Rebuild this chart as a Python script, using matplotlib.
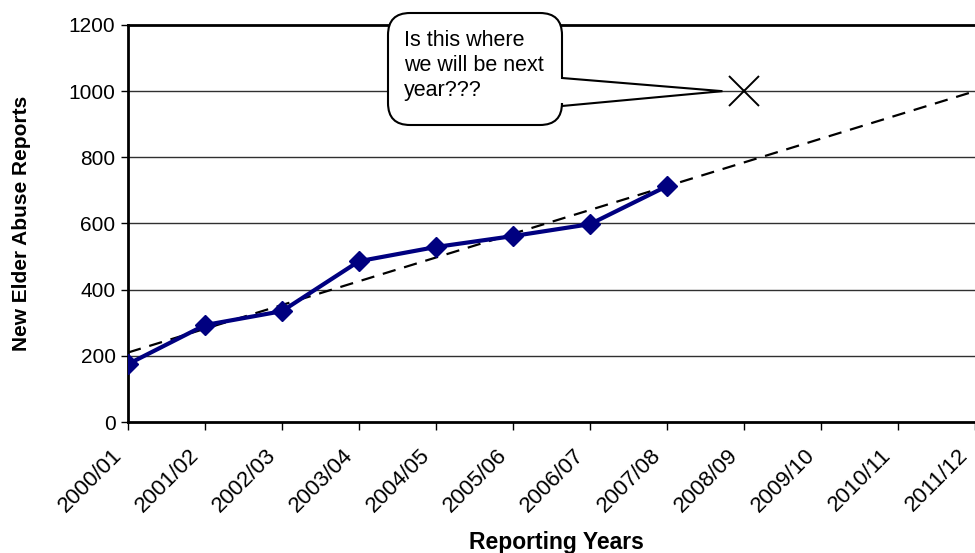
import matplotlib
matplotlib.use("Agg")
import matplotlib.pyplot as plt
from matplotlib.path import Path
from matplotlib.patches import PathPatch
from matplotlib.transforms import IdentityTransform, ScaledTranslation

plt.rcParams['font.family'] = ['Liberation Sans', 'DejaVu Sans']

years = ["2000/01", "2001/02", "2002/03", "2003/04", "2004/05", "2005/06",
         "2006/07", "2007/08", "2008/09", "2009/10", "2010/11", "2011/12"]
reports = [175, 293, 335, 486, 529, 562, 598, 713]
trend_ends = [210, 1000]          # trend line value at first and last year
guess_year = "2008/09"
guess_value = 1000
callout_text = "Is this where\nwe will be next\nyear???"
yticks = [0, 200, 400, 600, 800, 1000, 1200]

W, H, DPI = 975, 553, 100
fig = plt.figure(figsize=(W / DPI, H / DPI), dpi=DPI)
ax = fig.add_axes([128 / W, 1 - 422 / H, (W - 128) / W, (422 - 25) / H])

xs = list(range(len(years)))
ax.set_xlim(0, len(years) - 1)
ax.set_ylim(0, 1200)

for v in yticks[1:-1]:
    ax.axhline(v, color='#303030', lw=1.0, zorder=1)

ax.plot([xs[0], xs[-1]], trend_ends, color='black', lw=1.6,
        dashes=(6, 4), zorder=3)
ax.plot(xs[:len(reports)], reports, color='#000080', lw=3,
        marker='D', markersize=10, markerfacecolor='#000080',
        markeredgecolor='#000080', zorder=4)
gx = years.index(guess_year)
ax.plot([gx], [guess_value], marker='x', markersize=22, color='black',
        mew=1.4, zorder=5, clip_on=False)

ax.set_xticks(xs)
ax.set_xticklabels([])
shift = ScaledTranslation(-17 / DPI, -23 / DPI, fig.dpi_scale_trans)
for x, lab in zip(xs, years):
    ax.text(x, 0, lab, transform=ax.get_xaxis_transform() + shift,
            rotation=45, ha='right', va='top', rotation_mode='anchor',
            fontsize=16, clip_on=False)
ax.set_yticks(yticks)
ax.set_yticklabels([str(v) for v in yticks], fontsize=15)
ax.tick_params(axis='x', direction='out', length=6, width=1)
ax.tick_params(axis='y', direction='out', length=5, width=1, pad=4)

for s in ['left', 'bottom', 'top']:
    ax.spines[s].set_linewidth(2)
    ax.spines[s].set_color('black')
ax.spines['right'].set_visible(False)

ax.set_ylabel("New Elder Abuse Reports", fontsize=15, fontweight='bold')
ax.yaxis.label.set_va('center')
ax.yaxis.set_label_coords(-(128 - 22) / (W - 128), 0.5)
ax.set_xlabel("Reporting Years", fontsize=16.5, fontweight='bold')
ax.xaxis.label.set_va('baseline')
ax.xaxis.set_label_coords((556 - 128) / (W - 128), -(549 - 422) / (422 - 25))

# callout bubble built in display pixels
fig.canvas.draw()
tipx, tipy = ax.transData.transform((gx - 0.28, guess_value))
def P(x, y):
    return (x, H - y)
x0, x1, y0, y1, r = 388, 562, 13, 125, 22
ta, tb = 78, 106
tip = (tipx, tipy)
verts = [P(x0 + r, y0), P(x1 - r, y0), P(x1, y0), P(x1, y0 + r),
         P(x1, ta), tip, P(x1, tb),
         P(x1, y1 - r), P(x1, y1), P(x1 - r, y1),
         P(x0 + r, y1), P(x0, y1), P(x0, y1 - r),
         P(x0, y0 + r), P(x0, y0), P(x0 + r, y0), P(x0 + r, y0)]
codes = [Path.MOVETO, Path.LINETO, Path.CURVE3, Path.CURVE3,
         Path.LINETO, Path.LINETO, Path.LINETO,
         Path.LINETO, Path.CURVE3, Path.CURVE3,
         Path.LINETO, Path.CURVE3, Path.CURVE3,
         Path.LINETO, Path.CURVE3, Path.CURVE3, Path.CLOSEPOLY]
bubble = PathPatch(Path(verts, codes), facecolor='white', edgecolor='black',
                   lw=1.5, transform=IdentityTransform(), zorder=6)
fig.add_artist(bubble)
fig.text(404 / W, 1 - 30 / H, callout_text, fontsize=15.5, ha='left', va='top',
         linespacing=1.25, zorder=7)

fig.savefig("out.png", dpi=DPI)
